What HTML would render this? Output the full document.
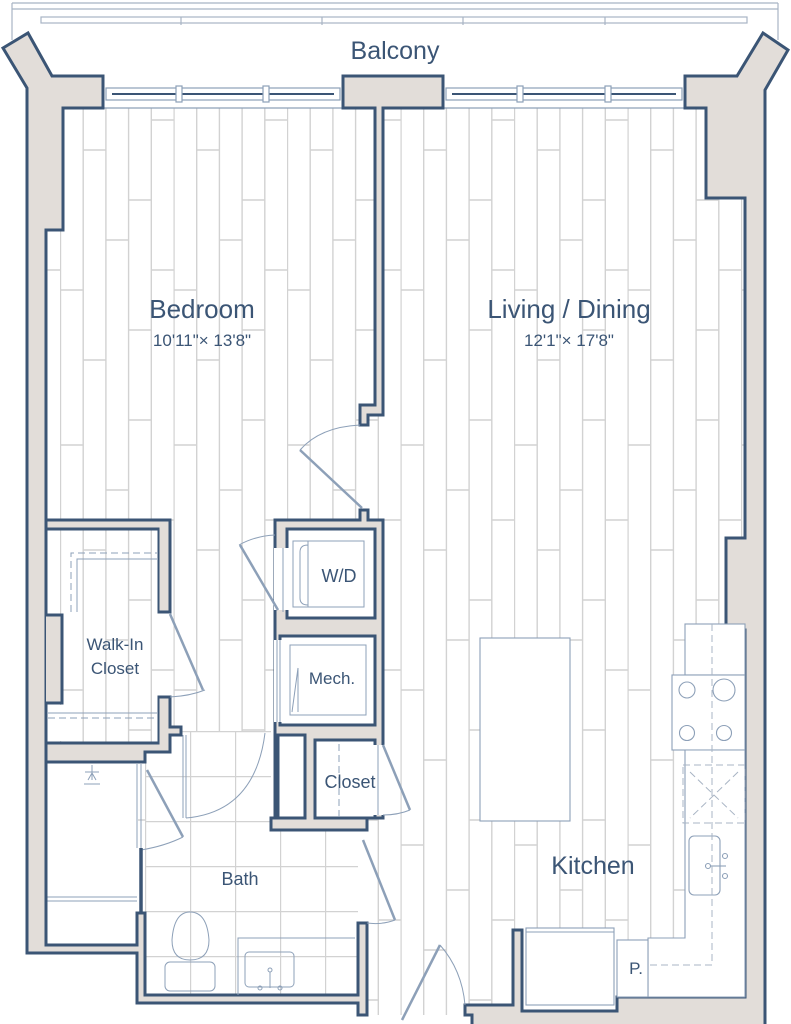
<!DOCTYPE html>
<html><head><meta charset="utf-8"><style>
html,body{margin:0;padding:0;background:#fff;width:791px;height:1024px;overflow:hidden}
svg{display:block}
text{font-family:"Liberation Sans",sans-serif;fill:#3b5575}
</style></head><body>
<svg width="791" height="1024" viewBox="0 0 791 1024" xmlns="http://www.w3.org/2000/svg">
<defs>
<pattern id="boards" x="60" y="0" width="113.5" height="400" patternUnits="userSpaceOnUse">
<rect width="113.5" height="400" fill="#fff"/>
<g stroke="#d2d2d2" stroke-width="1.4">
<line x1="0.5" y1="0" x2="0.5" y2="400"/><line x1="23.2" y1="0" x2="23.2" y2="400"/><line x1="45.9" y1="0" x2="45.9" y2="400"/><line x1="68.6" y1="0" x2="68.6" y2="400"/><line x1="91.3" y1="0" x2="91.3" y2="400"/>
<line x1="0.5" y1="45" x2="23.2" y2="45"/><line x1="0.5" y1="290" x2="23.2" y2="290"/>
<line x1="23.2" y1="150" x2="45.9" y2="150"/><line x1="23.2" y1="360" x2="45.9" y2="360"/>
<line x1="45.9" y1="90" x2="68.6" y2="90"/><line x1="45.9" y1="240" x2="68.6" y2="240"/>
<line x1="68.6" y1="20" x2="91.3" y2="20"/><line x1="68.6" y1="200" x2="91.3" y2="200"/><line x1="68.6" y1="330" x2="91.3" y2="330"/>
<line x1="91.3" y1="120" x2="113.5" y2="120"/><line x1="91.3" y1="270" x2="113.5" y2="270"/>
</g></pattern>
<pattern id="tiles" x="145" y="731" width="45" height="45" patternUnits="userSpaceOnUse">
<rect width="45" height="45" fill="#fff"/>
<path d="M0 0.5H45M0.5 0V45" stroke="#d2d2d2" stroke-width="1.4" fill="none"/>
</pattern>
<clipPath id="floorclip">
<rect x="46" y="108" width="700" height="845"/>
<rect x="367" y="950" width="150" height="65"/>
</clipPath>
</defs>

<rect x="46" y="108" width="700" height="910" fill="url(#boards)" clip-path="url(#floorclip)"/>

<g stroke="#a8b4c4" stroke-width="1.2" fill="none">
<line x1="12" y1="3" x2="778" y2="3"/><line x1="12" y1="9" x2="778" y2="9"/>
<line x1="12" y1="3" x2="12" y2="40"/><line x1="778" y1="3" x2="778" y2="40"/>
<rect x="41" y="17" width="706" height="6"/>
<line x1="181" y1="17" x2="181" y2="25"/><line x1="322" y1="17" x2="322" y2="25"/><line x1="463" y1="17" x2="463" y2="25"/><line x1="605" y1="17" x2="605" y2="25"/>
</g>
<rect x="103" y="76" width="582" height="32" fill="#fff"/>
<g stroke="#8da0b8" stroke-width="1.2" fill="none">
<line x1="103" y1="108" x2="343" y2="108"/><line x1="443" y1="108" x2="685" y2="108"/>
<rect x="106" y="88" width="234" height="12"/><rect x="446" y="88" width="236" height="12"/>
<line x1="112" y1="94" x2="334" y2="94" stroke="#3b5575" stroke-width="2"/>
<line x1="452" y1="94" x2="676" y2="94" stroke="#3b5575" stroke-width="2"/>
<rect x="176" y="86" width="6" height="16" fill="#fff"/><rect x="263" y="86" width="6" height="16" fill="#fff"/>
<rect x="517" y="86" width="6" height="16" fill="#fff"/><rect x="605" y="86" width="6" height="16" fill="#fff"/>
</g>

<rect x="145" y="731" width="213" height="264" fill="url(#tiles)"/>
<rect x="271" y="731" width="14" height="100" fill="#fff"/>
<rect x="46" y="762" width="92" height="183" fill="#fff"/>
<g stroke="#8da0b8" stroke-width="1" fill="none">
<line x1="46" y1="897" x2="137" y2="897"/><line x1="46" y1="901" x2="137" y2="901"/>
<line x1="137" y1="764" x2="137" y2="848"/><line x1="141" y1="764" x2="141" y2="848"/>
<path d="M92 765V780M85 772H99M88 780L92 773L96 780M84 784H100"/>
<path d="M147 770L183 837" stroke-width="2.5"/><path d="M141 850Q165 846 183 837"/>
</g>
<line x1="141" y1="848" x2="141" y2="913" stroke="#3b5575" stroke-width="3.5"/>

<g fill="#e2ddd9" stroke="#3b5575" stroke-width="3" stroke-linejoin="miter">
<polygon points="3,48 28,33 52,76 103,76 103,108 63,108 63,230 46,230 46,945 137,945 137,913 145,913 145,995 358,995 358,923 367,923 367,1015 358,1015 358,1003 137,1003 137,953 27,953 27,88"/>
<polygon points="343,76 443,76 443,108 383,108 383,415 368,415 368,425 360,425 360,405 375,405 375,108 343,108"/>
<polygon points="763,33 788,50 765,90 765,1026 472,1026 472,1015 465,1015 465,1005 513,1005 513,930 522,930 522,1011 617,1011 617,997 745,997 745,630 726,630 726,538 745,538 745,198 706,198 706,108 685,108 685,76 737,76"/>
<polygon points="46,520 170,520 170,612 158,612 158,529 46,529"/>
<polygon points="158,697 170,697 170,727 181,727 181,735 170,735 170,752 145,752 145,762 46,762 46,743 158,743"/>
<polygon points="275,520 360,520 360,510 368,510 368,520 383,520 383,818 367,818 367,830 271,830 271,818 275,818"/>
</g>
<!-- walk-in closet interior -->
<rect x="47.5" y="530.5" width="110" height="211" fill="url(#boards)"/>
<rect x="47.5" y="705" width="14" height="36" fill="#fff"/>
<rect x="46" y="615" width="16" height="88" fill="#e2ddd9"/>
<path d="M46 529V615H62V703H46V743" stroke="#3b5575" stroke-width="3" fill="none"/>
<g stroke="#8da0b8" stroke-width="1" fill="none">
<path d="M71 612V553H157" stroke-dasharray="7,4"/><path d="M77 612V559H157"/>
<path d="M48 718H157" stroke-dasharray="7,4"/><path d="M48 713H157"/>
<path d="M170 614L203 690" stroke-width="2.5"/><path d="M170 697Q190 696 205 690"/>
</g>
<g fill="#fff" stroke="#3b5575" stroke-width="3">
<rect x="287" y="529" width="88" height="89"/>
<rect x="280" y="636" width="95" height="89"/>
<rect x="278" y="735" width="27" height="83"/>
<rect x="315" y="740" width="60" height="78"/>
</g>
<rect x="274" y="548" width="15" height="62" fill="#fff"/>
<rect x="274" y="640" width="8" height="82" fill="#fff"/>
<rect x="373" y="745" width="12" height="70" fill="#fff"/>
<g stroke="#8da0b8" stroke-width="1" fill="none">
<line x1="283" y1="548" x2="283" y2="612"/><line x1="277" y1="640" x2="277" y2="722"/><line x1="280" y1="640" x2="280" y2="722"/>
<line x1="378" y1="745" x2="378" y2="815"/>
<rect x="293" y="541" width="71" height="66"/><path d="M308 541V607M308 545Q300 545 300 552V598Q300 605 308 605"/>
<rect x="290" y="645" width="76" height="70"/><path d="M298 668L292 712M298 668V712"/>
<path d="M339 744V818" stroke-dasharray="7,4"/>
<path d="M240 545L278 610" stroke-width="2.5"/><path d="M239 545Q255 536 275 535"/>
<path d="M300 450L362 508" stroke-width="2.5"/><path d="M300 450Q320 427 360 425"/>
<path d="M383 745L410 810" stroke-width="2.5"/><path d="M410 810Q398 815 383 815"/>
<path d="M363 840L395 920" stroke-width="2.5"/><path d="M395 920Q382 925 367 923"/>
<path d="M183 735V818M186 735V818"/><path d="M186 818Q255 812 265 733"/>
<path d="M402 1020L440 945" stroke-width="2.5"/><path d="M440 945Q462 970 465 1005"/>
<path d="M190 960Q172 960 172 940Q174 912 190 912Q207 912 209 940Q209 960 190 960Z"/>
<rect x="165" y="962" width="50" height="29" rx="5"/>
<path d="M238 995V938H355"/>
<rect x="245" y="952" width="49" height="35" rx="4"/><circle cx="270" cy="970" r="2"/><circle cx="260" cy="988" r="2"/><circle cx="280" cy="988" r="2"/><line x1="270" y1="972" x2="270" y2="988"/>
</g>
<g stroke="#8da0b8" stroke-width="1.1" fill="#fff">
<rect x="480" y="638" width="90" height="183"/>
<rect x="685" y="624" width="60" height="51"/>
<rect x="672" y="675" width="73" height="75"/>
<path d="M685 750V938H648V997H745V750Z"/>
<rect x="617" y="940" width="31" height="57"/>
<rect x="526" y="928" width="88" height="77"/>
<line x1="526" y1="932" x2="614" y2="932"/>
<circle cx="687" cy="690" r="8" fill="none"/><circle cx="724" cy="690" r="11" fill="none"/><circle cx="687" cy="733" r="7.5" fill="none"/><circle cx="724" cy="733" r="7.5" fill="none"/>
<rect x="689" y="836" width="31" height="59" rx="5"/>
<circle cx="725" cy="856" r="2.5"/><circle cx="725" cy="876" r="2.5"/><circle cx="708" cy="866" r="2.5"/><line x1="710" y1="866" x2="726" y2="866"/>
</g>
<g stroke="#a8b4c4" stroke-width="1" fill="none" stroke-dasharray="7,4">
<path d="M712 624V965H650"/>
<rect x="683" y="765" width="62" height="58"/>
<path d="M690 772L738 818M738 772L690 818"/>
</g>

<text x="395" y="59" font-size="25" text-anchor="middle">Balcony</text>
<text x="202" y="318" font-size="26" text-anchor="middle">Bedroom</text>
<text x="202" y="346" font-size="17" text-anchor="middle">10'11"× 13'8"</text>
<text x="569" y="318" font-size="26" text-anchor="middle">Living / Dining</text>
<text x="569" y="346" font-size="17" text-anchor="middle">12'1"× 17'8"</text>
<text x="593" y="874" font-size="25" text-anchor="middle">Kitchen</text>
<text x="339" y="582" font-size="18" text-anchor="middle">W/D</text>
<text x="332" y="684" font-size="17" text-anchor="middle">Mech.</text>
<text x="115" y="650" font-size="17" text-anchor="middle">Walk-In</text>
<text x="115" y="674" font-size="17" text-anchor="middle">Closet</text>
<text x="350" y="788" font-size="18" text-anchor="middle">Closet</text>
<text x="240" y="885" font-size="18" text-anchor="middle">Bath</text>
<text x="636" y="974" font-size="17" text-anchor="middle">P.</text>
</svg>
</body></html>
